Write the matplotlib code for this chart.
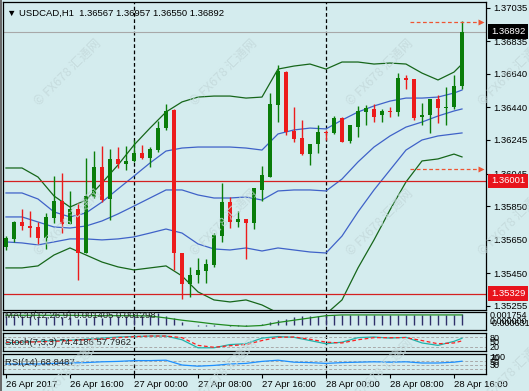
import matplotlib.pyplot as plt
from matplotlib.patches import Rectangle
import numpy as np

W, H = 529, 391
BG = "#d4ecee"
GREEN = "#0a7d0a"
RED = "#ec1c1c"

# USDCAD H1 candles, one per hour (26 Apr 08:00 .. 28 Apr 17:00)
opens = [1.35607, 1.35655, 1.35756, 1.35732, 1.35726, 1.35661, 1.35780, 1.35881, 1.35744, 1.35833,
         1.35571, 1.35905, 1.36084, 1.35893, 1.36132, 1.36102, 1.36120, 1.36167, 1.36138, 1.36185,
         1.36316, 1.36424, 1.35571, 1.35387, 1.35440, 1.35464, 1.35500, 1.35672, 1.35875, 1.35756,
         1.35774, 1.35750, 1.35947, 1.36024, 1.36454, 1.36650, 1.36299, 1.36257, 1.36161, 1.36221,
         1.36293, 1.36287, 1.36376, 1.36239, 1.36322, 1.36412, 1.36430, 1.36394, 1.36418, 1.36412,
         1.36615, 1.36609, 1.36382, 1.36394, 1.36489, 1.36436, 1.36442, 1.36567]
highs = [1.35672, 1.35762, 1.35833, 1.35822, 1.35756, 1.35810, 1.36030, 1.36048, 1.35941, 1.35869,
         1.36138, 1.36179, 1.36209, 1.36191, 1.36203, 1.36209, 1.36245, 1.36215, 1.36203, 1.36358,
         1.36460, 1.36430, 1.35571, 1.35488, 1.35541, 1.35535, 1.35690, 1.35988, 1.35905, 1.35822,
         1.35774, 1.35959, 1.36090, 1.36525, 1.36692, 1.36656, 1.36442, 1.36364, 1.36221, 1.36334,
         1.36305, 1.36388, 1.36382, 1.36334, 1.36448, 1.36454, 1.36460, 1.36430, 1.36442, 1.36644,
         1.36632, 1.36609, 1.36466, 1.36489, 1.36513, 1.36561, 1.36632, 1.36957]
lows = [1.35589, 1.35637, 1.35708, 1.35666, 1.35625, 1.35595, 1.35750, 1.35690, 1.35744, 1.35410,
        1.35571, 1.35899, 1.35875, 1.35768, 1.36078, 1.36066, 1.36114, 1.36132, 1.36084, 1.36173,
        1.36305, 1.35470, 1.35298, 1.35309, 1.35393, 1.35393, 1.35488, 1.35637, 1.35720, 1.35726,
        1.35535, 1.35714, 1.35881, 1.36024, 1.36352, 1.36275, 1.36233, 1.36155, 1.36096, 1.36167,
        1.36245, 1.36281, 1.36233, 1.36227, 1.36263, 1.36334, 1.36352, 1.36352, 1.36382, 1.36388,
        1.36549, 1.36364, 1.36334, 1.36287, 1.36346, 1.36334, 1.36430, 1.36550]
closes = [1.35661, 1.35756, 1.35732, 1.35720, 1.35661, 1.35786, 1.35881, 1.35744, 1.35833, 1.35571,
          1.35911, 1.36084, 1.35887, 1.36132, 1.36102, 1.36120, 1.36167, 1.36138, 1.36191, 1.36316,
          1.36418, 1.35571, 1.35387, 1.35440, 1.35470, 1.35506, 1.35678, 1.35875, 1.35756, 1.35774,
          1.35750, 1.35959, 1.36036, 1.36460, 1.36656, 1.36293, 1.36251, 1.36161, 1.36221, 1.36293,
          1.36287, 1.36376, 1.36233, 1.36334, 1.36418, 1.36436, 1.36382, 1.36418, 1.36412, 1.36615,
          1.36603, 1.36376, 1.36394, 1.36489, 1.36436, 1.36442, 1.36567, 1.36892]

# indicator lines, read at every second bar
line_idx = [1, 3, 5, 7, 9, 11, 13, 15, 17, 19, 21, 23, 25, 27, 29, 31, 33, 35, 37, 39,
            41, 43, 45, 47, 49, 51, 53, 55, 57, 58]
bb2_upper = [1.36078, 1.36078, 1.36024, 1.35911, 1.35845, 1.35887, 1.35989, 1.36096, 1.36215, 1.36316,
             1.36412, 1.36472, 1.36501, 1.36507, 1.36507, 1.36495, 1.36501, 1.36668, 1.36686, 1.36698,
             1.36668, 1.36710, 1.36710, 1.36698, 1.36704, 1.36698, 1.36644, 1.36603, 1.36650, 1.36698]
bb2_lower = [1.35482, 1.35482, 1.35494, 1.35559, 1.35601, 1.35559, 1.35517, 1.35488, 1.35470, 1.35482,
             1.35494, 1.35434, 1.35339, 1.35291, 1.35279, 1.35291, 1.35261, 1.35213, 1.35201, 1.35195,
             1.35207, 1.35291, 1.35482, 1.35649, 1.35828, 1.35995, 1.36120, 1.36132, 1.36161, 1.36144]
bb1_mid = [1.35786, 1.35786, 1.35756, 1.35726, 1.35720, 1.35732, 1.35762, 1.35804, 1.35851, 1.35899,
           1.35947, 1.35947, 1.35917, 1.35899, 1.35899, 1.35905, 1.35887, 1.35941, 1.35947, 1.35947,
           1.35941, 1.36012, 1.36114, 1.36203, 1.36269, 1.36322, 1.36352, 1.36388, 1.36418, 1.36430]
bb1_upper = [1.35929, 1.35929, 1.35893, 1.35816, 1.35786, 1.35810, 1.35875, 1.35953, 1.36030, 1.36108,
             1.36179, 1.36197, 1.36203, 1.36203, 1.36203, 1.36197, 1.36185, 1.36281, 1.36305, 1.36316,
             1.36311, 1.36364, 1.36412, 1.36448, 1.36477, 1.36495, 1.36495, 1.36501, 1.36525, 1.36543]
bb1_lower = [1.35637, 1.35631, 1.35619, 1.35637, 1.35655, 1.35655, 1.35649, 1.35655, 1.35667, 1.35690,
             1.35714, 1.35690, 1.35625, 1.35595, 1.35589, 1.35601, 1.35583, 1.35601, 1.35589, 1.35577,
             1.35571, 1.35672, 1.35816, 1.35947, 1.36066, 1.36185, 1.36245, 1.36269, 1.36281, 1.36287]

macd_hist = [0.0012, 0.0012, 0.0011, 0.0011, 0.0010, 0.0010, 0.0011, 0.0010, 0.0010, 0.0008,
             0.0009, 0.0010, 0.0009, 0.0010, 0.0011, 0.0011, 0.0012, 0.0012, 0.0013, 0.0015,
             0.0012, 0.0009, 0.0004, -0.0001, -0.0002, -0.0002, -0.0002, -0.0001, -0.0002, -0.0002,
             -0.0002, -0.0001, 0.0001, 0.0004, 0.0006, 0.0008, 0.0010, 0.0011, 0.0012, 0.0012,
             0.0013, 0.0013, 0.0013, 0.0013, 0.0013, 0.0013, 0.0013, 0.0013, 0.0013, 0.0013,
             0.0013, 0.0013, 0.0013, 0.0013, 0.0013, 0.0013, 0.0013, 0.0014]
macd_signal = [0.00125, 0.00125, 0.00125, 0.00125, 0.00125, 0.00122, 0.0012, 0.0012, 0.0012, 0.00116,
               0.0009, 0.0006, 0.00036, 0.0001, -0.0001, -0.0002, -0.0001, 0.0003, 0.0006, 0.0009,
               0.0012, 0.0013, 0.0013, 0.0013, 0.0013, 0.0013, 0.0013, 0.0013, 0.0013, 0.0013]
stoch_main = [45, 50, 55, 60, 62, 68, 75, 82, 85, 88, 88, 65, 15, 15, 35, 40, 75, 85, 80, 60,
              40, 50, 78, 82, 75, 80, 45, 30, 55, 74]
stoch_signal = [48, 50, 52, 55, 60, 65, 70, 78, 84, 88, 88, 78, 30, 18, 28, 35, 60, 80, 82, 68,
                50, 45, 65, 78, 78, 78, 60, 40, 45, 58]
rsi = [55, 55, 55, 58, 60, 62, 66, 68, 72, 72, 74, 50, 44, 48, 55, 58, 68, 74, 64, 62,
       58, 62, 64, 66, 64, 66, 60, 60, 64, 69]

price_ticks = [1.37035, 1.36835, 1.36640, 1.36440, 1.36245, 1.36045, 1.35850, 1.35650, 1.35450, 1.35255]
date_ticks = [1, 9, 17, 25, 33, 41, 49, 57]
date_labels = ["26 Apr 2017", "26 Apr 16:00", "27 Apr 00:00", "27 Apr 08:00",
               "27 Apr 16:00", "28 Apr 00:00", "28 Apr 08:00", "28 Apr 16:00"]
day_breaks = [17, 41]
bid = 1.36892
red_levels = [1.36001, 1.35329]
alert_levels = [1.36950, 1.36072]
header = "USDCAD,H1  1.36567 1.36957 1.36550 1.36892"

plt.rcParams["font.family"] = ["Liberation Sans", "DejaVu Sans"]
FS = 6.8


def panel(top, bottom):
    # pixel rows -> figure rect
    return [3 / W, 1 - bottom / H, 483 / W, (bottom - top) / H]


fig = plt.figure(figsize=(W / 100, H / 100), dpi=100, facecolor=BG)
ax = fig.add_axes(panel(2, 310))
ax_macd = fig.add_axes(panel(311.5, 329.5))
ax_st = fig.add_axes(panel(332.5, 351))
ax_rsi = fig.add_axes(panel(353.5, 374))
axes = [ax, ax_macd, ax_st, ax_rsi]

for a in axes:
    a.set_facecolor(BG)
    a.set_xlim(0.625, 61)
    for s in a.spines.values():
        s.set_color("black")
        s.set_linewidth(0.9)
    for d in day_breaks:
        a.axvline(d, color="black", lw=0.9, ls=(0, (3, 2)), zorder=1)
    a.tick_params(axis="x", bottom=False, labelbottom=False)
    a.tick_params(axis="y", left=False, labelleft=False)

# main price panel
x = np.arange(1, len(opens) + 1)
o, h, l, c = (np.array(v) for v in (opens, highs, lows, closes))
cols = np.where(c >= o, GREEN, RED)
ax.vlines(x, l, h, colors=cols, lw=1, zorder=3)
body = np.maximum(np.abs(c - o), 0.00005)
ax.bar(x, body, bottom=np.minimum(o, c), width=0.62, color=cols, linewidth=0, zorder=4)

ax.plot(line_idx, bb2_upper, color="#16661a", lw=0.9, zorder=2)
ax.plot(line_idx, bb2_lower, color="#16661a", lw=0.9, zorder=2)
for band in (bb1_upper, bb1_mid, bb1_lower):
    ax.plot(line_idx, band, color="#3f62c8", lw=0.9, zorder=2)

ax.axhline(bid, color="#a8a8a8", lw=0.8, zorder=1)
for lv in red_levels:
    ax.axhline(lv, color="#d42020", lw=0.9, zorder=2)
for lv in alert_levels:
    ax.plot([51.5, 60.2], [lv, lv], color="#ee5533", lw=0.9, ls=(0, (3, 2)), zorder=5)
    ax.plot([60.4], [lv], marker=">", ms=4, color="#ee5533", mec="none", zorder=5)

ax.set_ylim(1.35231, 1.37068)
ax.yaxis.tick_right()
ax.set_yticks(price_ticks)
ax.set_yticklabels([f"{v:.5f}" for v in price_ticks])
ax.tick_params(axis="y", right=True, labelright=True, direction="out", length=3,
               width=0.8, pad=2, labelsize=FS)

for lv, fc in [(bid, "black"), (red_levels[0], "#e8141c"), (red_levels[1], "#e8141c")]:
    ax.annotate(f"{lv:.5f}", xy=(1, lv), xycoords=("axes fraction", "data"),
                xytext=(3.6, 0), textcoords="offset points", va="center", ha="left",
                color="white", fontsize=FS, annotation_clip=False,
                bbox=dict(boxstyle="square,pad=0.28", fc=fc, ec="none"))

# MACD
ax_macd.vlines(x, 0, macd_hist, colors="#30306a", lw=1, zorder=3)
ax_macd.plot(line_idx, macd_signal, color="#1f8a1f", lw=0.9, zorder=4)
ax_macd.set_ylim(-0.000631, 0.001754)
ax_macd.text(0.004, 0.78, "MACD(12,26,9) 0.001405 0.001298", transform=ax_macd.transAxes,
             fontsize=FS, va="center", color="#222222", zorder=5)

# Stochastic
for lv in (80, 20):
    ax_st.axhline(lv, color="#a9a9a9", lw=0.7, ls=(0, (3, 2)))
ax_st.plot(line_idx, stoch_main, color="#20b2aa", lw=0.9)
ax_st.plot(line_idx, stoch_signal, color="#ff2020", lw=0.9, ls=(0, (3, 2)))
ax_st.set_ylim(-5, 110)
ax_st.text(0.004, 0.45, "Stoch(7,3,3) 74.4186 57.7962", transform=ax_st.transAxes,
           fontsize=FS, va="center", color="#222222")

# RSI
for lv in (70, 50, 30):
    ax_rsi.axhline(lv, color="#a9a9a9", lw=0.7, ls=(0, (3, 2)))
ax_rsi.plot(line_idx, rsi, color="#1e90ff", lw=0.9)
ax_rsi.set_ylim(5, 107.5)
ax_rsi.text(0.004, 0.57, "RSI(14) 68.8487", transform=ax_rsi.transAxes,
            fontsize=FS, va="center", color="#222222")

ax_rsi.set_xticks(date_ticks)
ax_rsi.set_xticklabels(date_labels, ha="left")
ax_rsi.tick_params(axis="x", bottom=True, labelbottom=True, direction="out",
                   length=3, width=0.8, pad=1.5, labelsize=FS)

# right-hand labels of the sub windows (MT4 prints them on top of each other)
side = [("0.001754", 316), ("0.000000", 321.5), ("-0.000631", 323.5),
        ("80", 338.5), ("50", 342.5), ("20", 347),
        ("100", 357), ("70", 358.5), ("50", 362.5), ("30", 366)]
for txt, yy in side:
    fig.text(490 / W, 1 - yy / H, txt, fontsize=FS - 0.3, va="center", ha="left")

fig.text(7 / W, 1 - 13 / H, "\u25bc " + header, fontsize=FS, va="center", ha="left")
fig.add_artist(Rectangle((0, 0), 2 / W, 1, transform=fig.transFigure, color="#6a6a6a", lw=0))

# FX678 watermarks
for wy in (72, 222, 372):
    for wx in (68, 224, 380, 512):
        fig.text(wx / W, 1 - wy / H, "\u00a9 FX678 \u6c47\u901a\u7f51", rotation=45,
                 fontsize=9, ha="center", va="center", color="#c4d9db", alpha=0.85,
                 family=["Noto Sans CJK SC", "DejaVu Sans"], zorder=10)

fig.savefig("out.png", dpi=100, facecolor=BG)
